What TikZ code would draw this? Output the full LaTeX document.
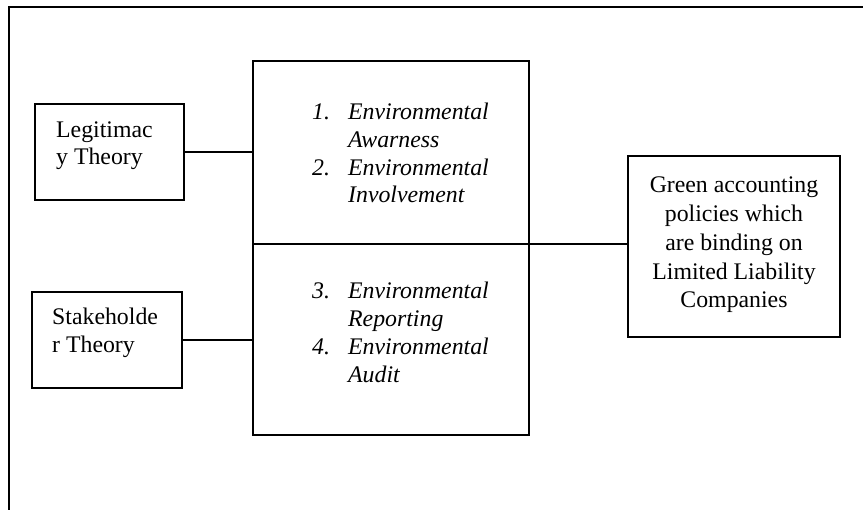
\documentclass[tikz,border=0pt]{standalone}
\usepackage{fontspec}
\setmainfont{Liberation Serif}
\begin{document}
\begin{tikzpicture}[x=1pt,y=-1pt,
  box/.style={draw=black,line width=1.8pt,rectangle,inner sep=0pt},
  frameline/.style={draw=black,line width=2pt},
  conn/.style={draw=black,line width=1.2pt},
  txt/.style={inner sep=0pt},
]
\useasboundingbox (0,0) rectangle (863,510);
% outer frame (top and left only)
\coordinate (fa) at (9,7);
\coordinate (fb) at (863,7);
\coordinate (fc) at (9,510);
\draw[frameline] (fb) -- (fa) -- (fc);

% boxes
\node[box,minimum width=149pt,minimum height=96pt] (legit) at (109.5,152) {};
\node[box,minimum width=150pt,minimum height=96pt] (stake) at (107,340) {};
\node[box,minimum width=276pt,minimum height=374pt] (mid) at (391,248) {};
\node[box,minimum width=212pt,minimum height=181pt] (green) at (734,246.5) {};

% texts (anchor base = baseline of last line)
\node[txt,anchor=base west,align=left,font=\fontsize{23.8pt}{27pt}\selectfont] (tlegit) at (56,165) {Legitimac\\y Theory};
\node[txt,anchor=base west,align=left,font=\fontsize{23.8pt}{28pt}\selectfont] (tstake) at (52,353) {Stakeholde\\r Theory};
\node[txt,anchor=base west,align=left,font=\fontsize{23.8pt}{27.7pt}\selectfont\itshape] (tmidA) at (312,203)
  {\makebox[36pt][l]{1.}Environmental\\
   \hspace*{36pt}Awarness\\
   \makebox[36pt][l]{2.}Environmental\\
   \hspace*{36pt}Involvement};
\node[txt,anchor=base west,align=left,font=\fontsize{23.8pt}{28.3pt}\selectfont\itshape] (tmidB) at (312,383)
  {\makebox[36pt][l]{3.}Environmental\\
   \hspace*{36pt}Reporting\\
   \makebox[36pt][l]{4.}Environmental\\
   \hspace*{36pt}Audit};
\node[txt,anchor=base,align=center,font=\fontsize{23.8pt}{28.75pt}\selectfont] (tgreen) at (734,308)
  {Green accounting\\policies which\\are binding on\\Limited Liability\\Companies};

% divider and connectors
\coordinate (div) at (391,244);
\draw[conn] (mid.west |- div) -- (mid.east |- div);
\draw[conn] (mid.east |- div) -- (green.west |- div);
\draw[conn] (legit.east) -- (legit.east -| mid.west);
\draw[conn] (stake.east) -- (stake.east -| mid.west);
\end{tikzpicture}
\end{document}
